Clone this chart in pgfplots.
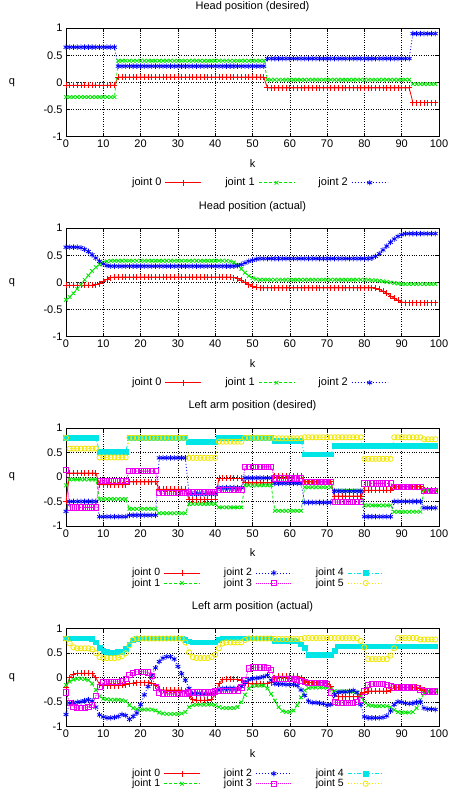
\documentclass[border=0pt]{standalone}
\usepackage{fontspec}
\setmainfont{Liberation Sans}
\usepackage{pgfplots}
\usepackage{pgfplotstable}
\pgfplotsset{compat=1.18}
\definecolor{gpgreen}{RGB}{0,230,0}
\definecolor{gpyellow}{RGB}{240,230,0}
\definecolor{gpcyan}{RGB}{0,230,230}
\definecolor{gpmag}{RGB}{240,0,240}

\pgfplotstableread{
k a b c
0 -0.05 -0.27 0.65
1 -0.05 -0.27 0.65
2 -0.05 -0.27 0.65
3 -0.05 -0.27 0.65
4 -0.05 -0.27 0.65
5 -0.05 -0.27 0.65
6 -0.05 -0.27 0.65
7 -0.05 -0.27 0.65
8 -0.05 -0.27 0.65
9 -0.05 -0.27 0.65
10 -0.05 -0.27 0.65
11 -0.05 -0.27 0.65
12 -0.05 -0.27 0.65
13 -0.05 -0.27 0.65
14 0.10 0.40 0.30
15 0.10 0.40 0.30
16 0.10 0.40 0.30
17 0.10 0.40 0.30
18 0.10 0.40 0.30
19 0.10 0.40 0.30
20 0.10 0.40 0.30
21 0.10 0.40 0.30
22 0.10 0.40 0.30
23 0.10 0.40 0.30
24 0.10 0.40 0.30
25 0.10 0.40 0.30
26 0.10 0.40 0.30
27 0.10 0.40 0.30
28 0.10 0.40 0.30
29 0.10 0.40 0.30
30 0.10 0.40 0.30
31 0.10 0.40 0.30
32 0.10 0.40 0.30
33 0.10 0.40 0.30
34 0.10 0.40 0.30
35 0.10 0.40 0.30
36 0.10 0.40 0.30
37 0.10 0.40 0.30
38 0.10 0.40 0.30
39 0.10 0.40 0.30
40 0.10 0.40 0.30
41 0.10 0.40 0.30
42 0.10 0.40 0.30
43 0.10 0.40 0.30
44 0.10 0.40 0.30
45 0.10 0.40 0.30
46 0.10 0.40 0.30
47 0.10 0.40 0.30
48 0.10 0.40 0.30
49 0.10 0.40 0.30
50 0.10 0.40 0.30
51 0.10 0.40 0.30
52 0.10 0.40 0.30
53 0.10 0.40 0.30
54 -0.10 0.05 0.44
55 -0.10 0.05 0.44
56 -0.10 0.05 0.44
57 -0.10 0.05 0.44
58 -0.10 0.05 0.44
59 -0.10 0.05 0.44
60 -0.10 0.05 0.44
61 -0.10 0.05 0.44
62 -0.10 0.05 0.44
63 -0.10 0.05 0.44
64 -0.10 0.05 0.44
65 -0.10 0.05 0.44
66 -0.10 0.05 0.44
67 -0.10 0.05 0.44
68 -0.10 0.05 0.44
69 -0.10 0.05 0.44
70 -0.10 0.05 0.44
71 -0.10 0.05 0.44
72 -0.10 0.05 0.44
73 -0.10 0.05 0.44
74 -0.10 0.05 0.44
75 -0.10 0.05 0.44
76 -0.10 0.05 0.44
77 -0.10 0.05 0.44
78 -0.10 0.05 0.44
79 -0.10 0.05 0.44
80 -0.10 0.05 0.44
81 -0.10 0.05 0.44
82 -0.10 0.05 0.44
83 -0.10 0.05 0.44
84 -0.10 0.05 0.44
85 -0.10 0.05 0.44
86 -0.10 0.05 0.44
87 -0.10 0.05 0.44
88 -0.10 0.05 0.44
89 -0.10 0.05 0.44
90 -0.10 0.05 0.44
91 -0.10 0.05 0.44
92 -0.10 0.05 0.44
93 -0.37 -0.03 0.90
94 -0.37 -0.03 0.90
95 -0.37 -0.03 0.90
96 -0.37 -0.03 0.90
97 -0.37 -0.03 0.90
98 -0.37 -0.03 0.90
99 -0.37 -0.03 0.90
}\HD

\pgfplotstableread{
k a b c
0 -0.05 -0.32 0.65
1 -0.05 -0.27 0.65
2 -0.05 -0.20 0.65
3 -0.05 -0.12 0.65
4 -0.05 -0.04 0.64
5 -0.05 0.05 0.61
6 -0.05 0.13 0.57
7 -0.05 0.21 0.51
8 -0.04 0.28 0.45
9 -0.02 0.33 0.39
10 0.02 0.37 0.34
11 0.06 0.39 0.31
12 0.09 0.40 0.30
13 0.10 0.40 0.30
14 0.10 0.40 0.30
15 0.10 0.40 0.30
16 0.10 0.40 0.30
17 0.10 0.40 0.30
18 0.10 0.40 0.30
19 0.10 0.40 0.30
20 0.10 0.40 0.30
21 0.10 0.40 0.30
22 0.10 0.40 0.30
23 0.10 0.40 0.30
24 0.10 0.40 0.30
25 0.10 0.40 0.30
26 0.10 0.40 0.30
27 0.10 0.40 0.30
28 0.10 0.40 0.30
29 0.10 0.40 0.30
30 0.10 0.40 0.30
31 0.10 0.40 0.30
32 0.10 0.40 0.30
33 0.10 0.40 0.30
34 0.10 0.40 0.30
35 0.10 0.40 0.30
36 0.10 0.40 0.30
37 0.10 0.40 0.30
38 0.10 0.40 0.30
39 0.10 0.40 0.30
40 0.10 0.40 0.30
41 0.10 0.40 0.30
42 0.10 0.40 0.30
43 0.10 0.40 0.30
44 0.10 0.39 0.30
45 0.09 0.37 0.30
46 0.07 0.32 0.31
47 0.04 0.25 0.33
48 0.00 0.18 0.36
49 -0.04 0.12 0.39
50 -0.07 0.08 0.41
51 -0.09 0.06 0.43
52 -0.10 0.05 0.44
53 -0.10 0.05 0.44
54 -0.10 0.05 0.44
55 -0.10 0.05 0.44
56 -0.10 0.05 0.44
57 -0.10 0.05 0.44
58 -0.10 0.05 0.44
59 -0.10 0.05 0.44
60 -0.10 0.05 0.44
61 -0.10 0.05 0.44
62 -0.10 0.05 0.44
63 -0.10 0.05 0.44
64 -0.10 0.05 0.44
65 -0.10 0.05 0.44
66 -0.10 0.05 0.44
67 -0.10 0.05 0.44
68 -0.10 0.05 0.44
69 -0.10 0.05 0.44
70 -0.10 0.05 0.44
71 -0.10 0.05 0.44
72 -0.10 0.05 0.44
73 -0.10 0.05 0.44
74 -0.10 0.05 0.44
75 -0.10 0.05 0.44
76 -0.10 0.05 0.44
77 -0.10 0.05 0.44
78 -0.10 0.05 0.44
79 -0.10 0.05 0.44
80 -0.10 0.05 0.44
81 -0.10 0.05 0.44
82 -0.10 0.04 0.45
83 -0.11 0.04 0.48
84 -0.13 0.03 0.53
85 -0.16 0.02 0.60
86 -0.20 0.01 0.67
87 -0.25 0.00 0.74
88 -0.29 -0.01 0.80
89 -0.33 -0.02 0.85
90 -0.36 -0.03 0.88
91 -0.37 -0.03 0.90
92 -0.37 -0.03 0.90
93 -0.37 -0.03 0.90
94 -0.37 -0.03 0.90
95 -0.37 -0.03 0.90
96 -0.37 -0.03 0.90
97 -0.37 -0.03 0.90
98 -0.37 -0.03 0.90
99 -0.37 -0.03 0.90
}\HA

\pgfplotstableread{
k a b c d e f
0 -0.50 -0.17 -0.70 0.15 0.80 0.80
1 0.08 -0.05 -0.50 -0.62 0.80 0.58
2 0.08 -0.05 -0.50 -0.62 0.80 0.58
3 0.08 -0.05 -0.50 -0.62 0.80 0.58
4 0.08 -0.05 -0.50 -0.62 0.80 0.58
5 0.08 -0.05 -0.50 -0.62 0.80 0.58
6 0.08 -0.05 -0.50 -0.62 0.80 0.58
7 0.08 -0.05 -0.50 -0.62 0.80 0.58
8 0.08 -0.05 -0.50 -0.62 0.80 0.58
9 -0.16 -0.45 -0.81 -0.08 0.52 0.40
10 -0.16 -0.45 -0.81 -0.08 0.52 0.40
11 -0.16 -0.45 -0.81 -0.08 0.52 0.40
12 -0.16 -0.45 -0.81 -0.08 0.52 0.40
13 -0.16 -0.45 -0.81 -0.08 0.52 0.40
14 -0.16 -0.45 -0.81 -0.08 0.52 0.40
15 -0.16 -0.45 -0.81 -0.08 0.52 0.40
16 -0.16 -0.45 -0.81 -0.08 0.52 0.40
17 -0.10 -0.65 -0.78 0.12 0.80 0.80
18 -0.10 -0.65 -0.78 0.12 0.80 0.80
19 -0.10 -0.65 -0.78 0.12 0.80 0.80
20 -0.10 -0.65 -0.78 0.12 0.80 0.80
21 -0.10 -0.65 -0.78 0.12 0.80 0.80
22 -0.10 -0.65 -0.78 0.12 0.80 0.80
23 -0.10 -0.65 -0.78 0.12 0.80 0.80
24 -0.10 -0.65 -0.78 0.12 0.80 0.80
25 -0.25 -0.74 0.39 -0.33 0.80 0.80
26 -0.25 -0.74 0.39 -0.33 0.80 0.80
27 -0.25 -0.74 0.39 -0.33 0.80 0.80
28 -0.25 -0.74 0.39 -0.33 0.80 0.80
29 -0.25 -0.74 0.39 -0.33 0.80 0.80
30 -0.25 -0.74 0.39 -0.33 0.80 0.80
31 -0.25 -0.74 0.39 -0.33 0.80 0.80
32 -0.25 -0.74 0.39 -0.33 0.80 0.80
33 -0.46 -0.55 -0.35 -0.30 0.72 0.39
34 -0.46 -0.55 -0.35 -0.30 0.72 0.39
35 -0.46 -0.55 -0.35 -0.30 0.72 0.39
36 -0.46 -0.55 -0.35 -0.30 0.72 0.39
37 -0.46 -0.55 -0.35 -0.30 0.72 0.39
38 -0.46 -0.55 -0.35 -0.30 0.72 0.39
39 -0.46 -0.55 -0.35 -0.30 0.72 0.39
40 -0.46 -0.55 -0.35 -0.30 0.72 0.39
41 -0.03 -0.62 -0.22 -0.27 0.80 0.72
42 -0.03 -0.62 -0.22 -0.27 0.80 0.72
43 -0.03 -0.62 -0.22 -0.27 0.80 0.72
44 -0.03 -0.62 -0.22 -0.27 0.80 0.72
45 -0.03 -0.62 -0.22 -0.27 0.80 0.72
46 -0.03 -0.62 -0.22 -0.27 0.80 0.72
47 -0.03 -0.62 -0.22 -0.27 0.80 0.72
48 -0.12 -0.17 -0.02 0.21 0.80 0.80
49 -0.12 -0.17 -0.02 0.21 0.80 0.80
50 -0.12 -0.17 -0.02 0.21 0.80 0.80
51 -0.12 -0.17 -0.02 0.21 0.80 0.80
52 -0.12 -0.17 -0.02 0.21 0.80 0.80
53 -0.12 -0.17 -0.02 0.21 0.80 0.80
54 -0.12 -0.17 -0.02 0.21 0.80 0.80
55 -0.12 -0.17 -0.02 0.21 0.80 0.80
56 0.03 -0.69 -0.13 -0.03 0.74 0.79
57 0.03 -0.69 -0.13 -0.03 0.74 0.79
58 0.03 -0.69 -0.13 -0.03 0.74 0.79
59 0.03 -0.69 -0.13 -0.03 0.74 0.79
60 0.03 -0.69 -0.13 -0.03 0.74 0.79
61 0.03 -0.69 -0.13 -0.03 0.74 0.79
62 0.03 -0.69 -0.13 -0.03 0.74 0.79
63 0.03 -0.69 -0.13 -0.03 0.74 0.79
64 -0.10 -0.21 -0.52 -0.10 0.46 0.81
65 -0.10 -0.21 -0.52 -0.10 0.46 0.81
66 -0.10 -0.21 -0.52 -0.10 0.46 0.81
67 -0.10 -0.21 -0.52 -0.10 0.46 0.81
68 -0.10 -0.21 -0.52 -0.10 0.46 0.81
69 -0.10 -0.21 -0.52 -0.10 0.46 0.81
70 -0.10 -0.21 -0.52 -0.10 0.46 0.81
71 -0.10 -0.21 -0.52 -0.10 0.46 0.81
72 -0.39 -0.28 -0.29 -0.51 0.64 0.81
73 -0.39 -0.28 -0.29 -0.51 0.64 0.81
74 -0.39 -0.28 -0.29 -0.51 0.64 0.81
75 -0.39 -0.28 -0.29 -0.51 0.64 0.81
76 -0.39 -0.28 -0.29 -0.51 0.64 0.81
77 -0.39 -0.28 -0.29 -0.51 0.64 0.81
78 -0.39 -0.28 -0.29 -0.51 0.64 0.81
79 -0.39 -0.28 -0.29 -0.51 0.64 0.81
80 -0.27 -0.58 -0.81 -0.13 0.63 0.37
81 -0.27 -0.58 -0.81 -0.13 0.63 0.37
82 -0.27 -0.58 -0.81 -0.13 0.63 0.37
83 -0.27 -0.58 -0.81 -0.13 0.63 0.37
84 -0.27 -0.58 -0.81 -0.13 0.63 0.37
85 -0.27 -0.58 -0.81 -0.13 0.63 0.37
86 -0.27 -0.58 -0.81 -0.13 0.63 0.37
87 -0.27 -0.58 -0.81 -0.13 0.63 0.37
88 -0.20 -0.71 -0.50 -0.20 0.63 0.81
89 -0.20 -0.71 -0.50 -0.20 0.63 0.81
90 -0.20 -0.71 -0.50 -0.20 0.63 0.81
91 -0.20 -0.71 -0.50 -0.20 0.63 0.81
92 -0.20 -0.71 -0.50 -0.20 0.63 0.81
93 -0.20 -0.71 -0.50 -0.20 0.63 0.81
94 -0.20 -0.71 -0.50 -0.20 0.63 0.81
95 -0.20 -0.71 -0.50 -0.20 0.63 0.81
96 -0.27 -0.27 -0.63 -0.28 0.63 0.77
97 -0.27 -0.27 -0.63 -0.28 0.63 0.77
98 -0.27 -0.27 -0.63 -0.28 0.63 0.77
99 -0.27 -0.27 -0.63 -0.28 0.63 0.77
}\LD

\pgfplotstableread{
k a b c d e f
0 -0.20 -0.15 -0.75 -0.30 0.80 0.80
1 0.00 -0.08 -0.52 -0.52 0.80 0.70
2 0.07 -0.04 -0.51 -0.60 0.80 0.62
3 0.09 -0.02 -0.50 -0.62 0.80 0.60
4 0.09 -0.02 -0.49 -0.62 0.80 0.60
5 0.09 -0.03 -0.47 -0.62 0.80 0.60
6 0.09 -0.05 -0.45 -0.60 0.80 0.60
7 0.08 -0.12 -0.48 -0.55 0.79 0.58
8 0.00 -0.25 -0.60 -0.37 0.72 0.50
9 -0.14 -0.38 -0.76 -0.18 0.60 0.42
10 -0.16 -0.43 -0.80 -0.09 0.54 0.40
11 -0.16 -0.44 -0.82 -0.08 0.52 0.40
12 -0.16 -0.45 -0.82 -0.08 0.51 0.40
13 -0.16 -0.45 -0.81 -0.08 0.51 0.40
14 -0.16 -0.45 -0.79 -0.08 0.52 0.41
15 -0.15 -0.46 -0.75 -0.07 0.53 0.44
16 -0.14 -0.48 -0.77 -0.02 0.58 0.50
17 -0.12 -0.56 -0.85 0.05 0.68 0.66
18 -0.11 -0.62 -0.79 0.10 0.76 0.78
19 -0.10 -0.64 -0.72 0.12 0.79 0.80
20 -0.10 -0.65 -0.55 0.12 0.80 0.80
21 -0.10 -0.65 -0.35 0.12 0.80 0.80
22 -0.10 -0.65 -0.18 0.11 0.80 0.80
23 -0.11 -0.65 0.05 0.03 0.80 0.80
24 -0.16 -0.67 0.20 -0.20 0.80 0.80
25 -0.23 -0.71 0.33 -0.30 0.80 0.80
26 -0.25 -0.73 0.40 -0.32 0.80 0.80
27 -0.25 -0.74 0.43 -0.33 0.80 0.80
28 -0.25 -0.74 0.43 -0.33 0.80 0.80
29 -0.25 -0.74 0.38 -0.33 0.80 0.80
30 -0.25 -0.74 0.23 -0.33 0.80 0.80
31 -0.25 -0.73 0.08 -0.33 0.80 0.80
32 -0.27 -0.70 -0.05 -0.32 0.77 0.72
33 -0.38 -0.60 -0.22 -0.30 0.74 0.52
34 -0.45 -0.56 -0.32 -0.30 0.72 0.42
35 -0.46 -0.55 -0.34 -0.30 0.72 0.40
36 -0.46 -0.55 -0.34 -0.30 0.72 0.40
37 -0.46 -0.55 -0.34 -0.30 0.72 0.40
38 -0.46 -0.55 -0.34 -0.30 0.72 0.40
39 -0.44 -0.55 -0.34 -0.30 0.72 0.42
40 -0.35 -0.56 -0.30 -0.28 0.72 0.47
41 -0.12 -0.60 -0.25 -0.27 0.77 0.60
42 -0.04 -0.62 -0.22 -0.27 0.80 0.70
43 -0.03 -0.62 -0.22 -0.27 0.80 0.72
44 -0.03 -0.62 -0.22 -0.27 0.80 0.72
45 -0.03 -0.62 -0.22 -0.27 0.80 0.72
46 -0.03 -0.60 -0.22 -0.26 0.80 0.72
47 -0.05 -0.50 -0.18 -0.20 0.80 0.72
48 -0.10 -0.35 -0.10 -0.05 0.80 0.77
49 -0.12 -0.22 -0.04 0.19 0.80 0.80
50 -0.12 -0.17 -0.02 0.21 0.80 0.80
51 -0.12 -0.16 -0.01 0.21 0.80 0.80
52 -0.12 -0.16 0.00 0.21 0.80 0.80
53 -0.12 -0.16 0.02 0.21 0.80 0.80
54 -0.12 -0.22 0.05 0.20 0.80 0.80
55 -0.10 -0.33 -0.05 0.16 0.80 0.80
56 0.00 -0.47 -0.12 -0.02 0.75 0.79
57 0.03 -0.60 -0.13 -0.03 0.75 0.79
58 0.03 -0.68 -0.13 -0.03 0.75 0.79
59 0.03 -0.70 -0.14 -0.03 0.75 0.79
60 0.03 -0.70 -0.14 -0.03 0.75 0.79
61 0.03 -0.67 -0.14 -0.03 0.75 0.79
62 0.03 -0.56 -0.16 -0.04 0.74 0.79
63 0.00 -0.40 -0.25 -0.06 0.68 0.79
64 -0.07 -0.26 -0.36 -0.09 0.60 0.81
65 -0.10 -0.21 -0.48 -0.10 0.46 0.81
66 -0.10 -0.20 -0.51 -0.10 0.46 0.81
67 -0.10 -0.20 -0.51 -0.10 0.46 0.81
68 -0.10 -0.20 -0.52 -0.10 0.46 0.81
69 -0.10 -0.20 -0.53 -0.11 0.46 0.81
70 -0.11 -0.21 -0.56 -0.13 0.46 0.81
71 -0.18 -0.24 -0.55 -0.30 0.47 0.81
72 -0.33 -0.27 -0.35 -0.50 0.55 0.81
73 -0.39 -0.28 -0.30 -0.51 0.64 0.81
74 -0.39 -0.28 -0.29 -0.51 0.64 0.81
75 -0.39 -0.28 -0.29 -0.51 0.64 0.81
76 -0.39 -0.28 -0.28 -0.51 0.64 0.81
77 -0.39 -0.29 -0.26 -0.51 0.64 0.81
78 -0.39 -0.30 -0.30 -0.50 0.64 0.81
79 -0.35 -0.38 -0.55 -0.45 0.64 0.75
80 -0.29 -0.50 -0.80 -0.28 0.64 0.62
81 -0.27 -0.56 -0.82 -0.14 0.64 0.38
82 -0.27 -0.57 -0.82 -0.13 0.64 0.38
83 -0.27 -0.58 -0.82 -0.13 0.64 0.38
84 -0.27 -0.58 -0.82 -0.13 0.64 0.38
85 -0.27 -0.58 -0.81 -0.13 0.64 0.38
86 -0.27 -0.58 -0.78 -0.14 0.64 0.38
87 -0.25 -0.60 -0.68 -0.17 0.64 0.45
88 -0.21 -0.66 -0.55 -0.20 0.64 0.60
89 -0.20 -0.70 -0.49 -0.20 0.64 0.81
90 -0.20 -0.71 -0.50 -0.20 0.64 0.81
91 -0.20 -0.71 -0.52 -0.20 0.64 0.81
92 -0.20 -0.71 -0.53 -0.20 0.64 0.81
93 -0.20 -0.70 -0.52 -0.20 0.64 0.81
94 -0.20 -0.62 -0.50 -0.21 0.64 0.81
95 -0.22 -0.45 -0.50 -0.25 0.64 0.78
96 -0.26 -0.32 -0.62 -0.28 0.64 0.78
97 -0.27 -0.28 -0.64 -0.28 0.64 0.78
98 -0.27 -0.27 -0.64 -0.28 0.64 0.78
99 -0.27 -0.27 -0.65 -0.28 0.64 0.78
}\LA

\newcommand{\gpfont}{\fontsize{11}{13}\selectfont}
\newcommand{\gplegfont}{\fontsize{10.5}{11}\selectfont}

\pgfplotsset{
  gp/.style={
    scale only axis, width=373pt,
    xmin=0, xmax=100, ymin=-1, ymax=1,
    xtick={0,10,...,100},
    ytick={-1,-0.5,0,0.5,1}, yticklabels={-1,-0.5,0,0.5,1},
    /pgf/number format/assume math mode=true,
    tick label style={font=\gpfont},
    label style={font=\gpfont},
    title style={font=\gpfont, at={(axis description cs:0.5,1)}, anchor=base, yshift=13pt},
    xlabel={k}, ylabel={q},
    xlabel style={at={(axis description cs:0.5,0)}, anchor=base, yshift=-31pt},
    ylabel style={rotate=-90, at={(axis description cs:-0.145,0.5)}, anchor=center},
    grid=major,
    major grid style={black, line width=0.45pt, dash pattern=on 0.8pt off 1.6pt},
    tick align=inside, major tick length=4pt,
    tick style={black, line width=0.5pt},
    axis line style={black, line width=0.8pt},
    every axis plot/.append style={line width=0.8pt},
    legend cell align=right, legend plot pos=right,
    legend image code/.code={\draw[mark repeat=2,mark phase=2,##1] plot coordinates {(0pt,0pt) (18pt,0pt) (36pt,0pt)};},
    legend style={draw=none, fill=none, font=\gplegfont, inner sep=0pt, outer sep=0pt,
      column sep=3pt, row sep=0pt,
      nodes={inner sep=0.5pt},
      /tikz/every even column/.append style={column sep=23pt},
      at={(axis description cs:0.176,0)}, anchor=west},
  },
  jA/.style={color=red, solid, mark=+, mark size=3pt, mark options={solid}},
  jB/.style={color=gpgreen, dash pattern=on 3pt off 2pt, mark=x, mark size=2.6pt, mark options={solid}},
  jC/.style={color=blue, dash pattern=on 1pt off 2pt, mark=asterisk, mark size=2.8pt, mark options={solid}},
  jD/.style={color=gpmag, dash pattern=on 1pt off 1pt, mark=square, mark size=2.6pt, mark options={solid}},
  jE/.style={color=gpcyan, dash pattern=on 4pt off 2pt on 1pt off 2pt, mark=square*, mark size=2.4pt, mark options={solid}},
  jF/.style={color=gpyellow, dash pattern=on 1pt off 2pt, mark=o, mark size=2.6pt, mark options={solid}},
}

\begin{document}
\begin{tikzpicture}[x=1pt,y=1pt]
\useasboundingbox (0,0) rectangle (456,792);

\begin{axis}[gp, height=108.5pt, at={(66pt,655.3pt)}, anchor=south west,
  title={Head position (desired)}, legend columns=3,
  legend style={yshift=-46pt, font=\gpfont}]
\addplot[jA] table[x=k,y=a] {\HD};
\addplot[jB] table[x=k,y=b] {\HD};
\addplot[jC] table[x=k,y=c] {\HD};
\legend{joint 0, joint 1, joint 2}
\end{axis}

\begin{axis}[gp, height=108.5pt, at={(66pt,455.3pt)}, anchor=south west,
  title={Head position (actual)}, legend columns=3,
  legend style={yshift=-46pt, font=\gpfont}]
\addplot[jA] table[x=k,y=a] {\HA};
\addplot[jB] table[x=k,y=b] {\HA};
\addplot[jC] table[x=k,y=c] {\HA};
\legend{joint 0, joint 1, joint 2}
\end{axis}

\begin{axis}[gp, height=98pt, at={(66pt,266pt)}, anchor=south west,
  title={Left arm position (desired)}, legend columns=2, transpose legend,
  legend style={yshift=-52pt}]
\addplot[jA] table[x=k,y=a] {\LD};
\addplot[jB] table[x=k,y=b] {\LD};
\addplot[jC] table[x=k,y=c] {\LD};
\addplot[jD] table[x=k,y=d] {\LD};
\addplot[jE] table[x=k,y=e] {\LD};
\addplot[jF] table[x=k,y=f] {\LD};
\legend{joint 0, joint 1, joint 2, joint 3, joint 4, joint 5}
\end{axis}

\begin{axis}[gp, height=98pt, at={(66pt,65.3pt)}, anchor=south west,
  title={Left arm position (actual)}, legend columns=2, transpose legend,
  legend style={yshift=-52pt}]
\addplot[jA] table[x=k,y=a] {\LA};
\addplot[jB] table[x=k,y=b] {\LA};
\addplot[jC] table[x=k,y=c] {\LA};
\addplot[jD] table[x=k,y=d] {\LA};
\addplot[jE] table[x=k,y=e] {\LA};
\addplot[jF] table[x=k,y=f] {\LA};
\legend{joint 0, joint 1, joint 2, joint 3, joint 4, joint 5}
\end{axis}
\end{tikzpicture}
\end{document}
